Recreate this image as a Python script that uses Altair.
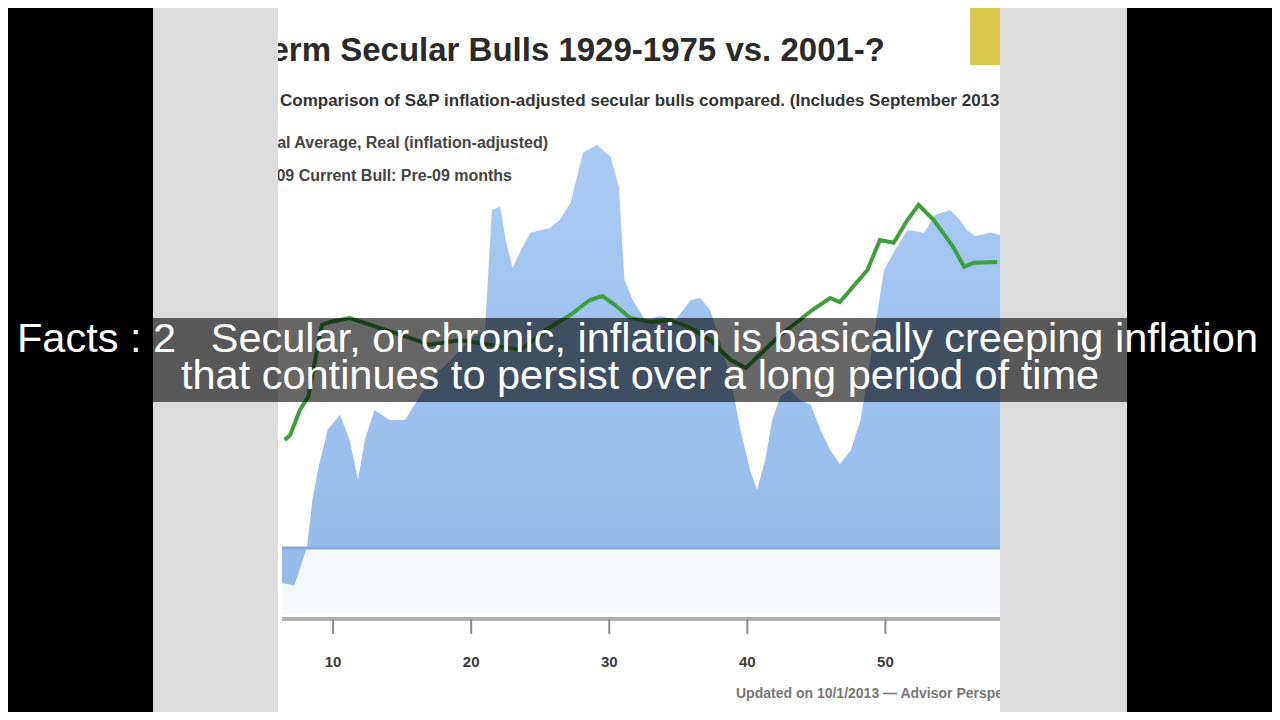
import altair as alt
import pandas as pd

# ---- data (x: months into the bull market, y: % gain) ----
area_month = [6.3, 7.2, 7.8, 8.1, 8.5, 8.9, 9.6, 10.5, 11.2, 11.8, 12.3, 13.0, 14.1, 15.2, 15.9,
              17.0, 18.5, 19.9, 21.0, 21.5, 22.1, 22.5, 23.0, 23.6, 24.3, 25.7, 26.4, 27.2, 28.1,
              29.1, 30.1, 30.7, 31.1, 31.7, 32.6, 33.7, 34.8, 35.9, 36.6, 37.3, 38.0, 38.8, 39.5,
              40.2, 40.7, 41.3, 41.8, 42.4, 43.1, 43.8, 44.6, 45.3, 46.0, 46.7, 47.5, 48.2, 48.9,
              49.9, 50.7, 51.6, 52.8, 53.6, 54.7, 55.4, 55.9, 56.5, 57.6, 58.3]
area_value = [-8.8, -9.3, -3.0, 0.0, 12.0, 19.5, 29.5, 33.3, 27.0, 17.0, 27.0, 34.5, 32.0, 32.0, 35.8,
              42.0, 47.0, 52.0, 54.5, 84.5, 85.3, 77.0, 70.0, 74.5, 78.8, 80.0, 82.0, 86.3, 98.8,
              100.8, 97.8, 90.3, 67.0, 62.0, 57.0, 58.0, 57.0, 62.0, 62.5, 59.5, 52.0, 42.0, 29.5,
              19.5, 14.5, 22.0, 32.0, 38.0, 39.5, 37.0, 35.8, 29.5, 24.5, 21.0, 24.5, 32.0, 47.0,
              69.5, 74.5, 79.5, 78.8, 83.3, 84.5, 82.0, 79.5, 78.0, 78.8, 78.3]

line_month = [6.5, 6.9, 7.6, 8.2, 8.7, 9.2, 9.8, 11.2, 12.7, 14.9, 17.0, 19.2, 21.4, 23.6, 25.4,
              27.2, 28.6, 29.5, 30.4, 31.5, 33.0, 34.4, 35.9, 37.3, 38.8, 39.9, 40.9, 42.4, 43.8,
              44.7, 46.0, 46.7, 48.7, 49.6, 50.6, 51.6, 52.4, 53.5, 54.9, 55.7, 56.4, 58.1]
line_value = [27.0, 28.3, 34.5, 37.8, 47.0, 55.8, 56.5, 57.5, 55.8, 53.3, 50.8, 52.0, 50.8, 49.5, 54.5,
              58.3, 62.0, 63.0, 60.8, 57.5, 56.5, 57.0, 55.0, 52.0, 47.0, 45.0, 48.3, 53.3, 57.0,
              59.5, 62.5, 61.5, 69.5, 77.0, 76.3, 82.0, 85.8, 82.0, 75.3, 70.3, 71.3, 71.5]

tick_months = [10, 20, 30, 40, 50]
tick_labels = ["10", "20", "30", "40", "50"]

title_text = "Long-Term Secular Bulls 1929-1975 vs. 2001-?"
subtitle_text = "Comparison of S&P inflation-adjusted secular bulls compared. (Includes September 2013)"
legend_1 = "Dow Jones Industrial Average, Real (inflation-adjusted)"
legend_2 = "2009 Current Bull: Pre-09 months"
source_text = "Updated on 10/1/2013 — Advisor Perspectives"
caption_1 = "Facts : 2\u00a0\u00a0\u00a0Secular, or chronic, inflation is basically creeping inflation"
caption_2 = "that continues to persist over a long period of time"

area_df = pd.DataFrame({"month": area_month, "value": area_value})
line_df = pd.DataFrame({"month": line_month, "value": line_value})
tick_df = pd.DataFrame({"month": tick_months, "label": tick_labels})
one = pd.DataFrame({"k": [0]})

W, H = 1264, 704
xs = alt.Scale(domain=[6.3, 58.3], range=[274, 992], nice=False, zero=False)
ys = alt.Scale(domain=[-17.5, 110], range=[610, 100], nice=False, zero=False)
X = lambda: alt.X("month:Q", scale=xs, axis=None)
Y = lambda: alt.Y("value:Q", scale=ys, axis=None)


def box(x1, x2, y1, y2, color, opacity=1.0):
    return alt.Chart(one).mark_rect(color=color, opacity=opacity).encode(
        x=alt.value(x1), x2=alt.value(x2), y=alt.value(y1), y2=alt.value(y2))


def label(text, x, y, size, color, align="left", weight="normal", font="Liberation Sans"):
    return alt.Chart(one).mark_text(text=text, align=align, baseline="alphabetic", fontSize=size,
                                    color=color, fontWeight=weight, font=font).encode(
        x=alt.value(x), y=alt.value(y))


gray_panel = box(145, 1119, 0, H, "#dcdcdc")
white_panel = box(270, 992, 0, H, "#ffffff")
below_band = box(274, 992, 541, 606, "#f5f8fc")
yellow = box(962, 992, 0, 57, "#d9c84c")

title = label(title_text, 877, 53, 33, "#2a2a2a", align="right", weight="bold")
subtitle = label(subtitle_text, 272, 98, 17, "#333333", weight="bold")
leg1 = label(legend_1, 540, 140, 16, "#444444", align="right", weight="bold")
leg2 = label(legend_2, 504, 173, 16, "#444444", align="right", weight="bold")

area = alt.Chart(area_df).mark_area(
    color=alt.Gradient(gradient="linear",
                       stops=[alt.GradientStop(color="#aacbf3", offset=0),
                              alt.GradientStop(color="#9dc2ef", offset=0.5),
                              alt.GradientStop(color="#96bceb", offset=1)],
                       x1=1, x2=1, y1=0, y2=1),
    interpolate="linear").encode(x=X(), y=Y(), y2=alt.datum(0))

baseline = alt.Chart(one).mark_rule(color="#86aad8", strokeWidth=3).encode(
    x=alt.value(274), x2=alt.value(992), y=alt.value(540))

line = alt.Chart(line_df).mark_line(color="#3f9f3f", strokeWidth=4).encode(x=X(), y=Y())

axis_line = alt.Chart(one).mark_rule(color="#b0b0b0", strokeWidth=4).encode(
    x=alt.value(274), x2=alt.value(992), y=alt.value(611))
ticks = alt.Chart(tick_df).mark_rule(color="#8a8a8a", strokeWidth=2).encode(
    x=X(), y=alt.value(611), y2=alt.value(626))
tick_text = alt.Chart(tick_df).mark_text(fontSize=15, fontWeight="bold", color="#3a3a3a",
                                         baseline="middle", font="Liberation Sans").encode(
    x=X(), y=alt.value(654), text="label:N")
source = label(source_text, 728, 690, 14, "#777777", weight="bold")

left_cover = box(145, 270, 0, H, "#dcdcdc")
right_cover = box(992, 1119, 0, H, "#dcdcdc")
left_black = box(0, 145, 0, H, "#000000")
right_black = box(1119, W, 0, H, "#000000")

band = box(145, 1119, 310, 394, "#000000", 0.6)
cap1 = label(caption_1, 9, 344, 41.5, "#ffffff")
cap2 = label(caption_2, 632, 381, 41.5, "#ffffff", align="center")

chart = alt.layer(
    gray_panel, white_panel, below_band, yellow, title, subtitle, leg1, leg2,
    area, baseline, line, axis_line, ticks, tick_text, source,
    left_cover, right_cover, left_black, right_black, band, cap1, cap2
).properties(
    width=W, height=H, background="#000000", padding=0,
    autosize=alt.AutoSizeParams(type="none")
).configure_view(stroke=None)

chart.save("out.html", embed_options={"renderer": "svg", "actions": False})
